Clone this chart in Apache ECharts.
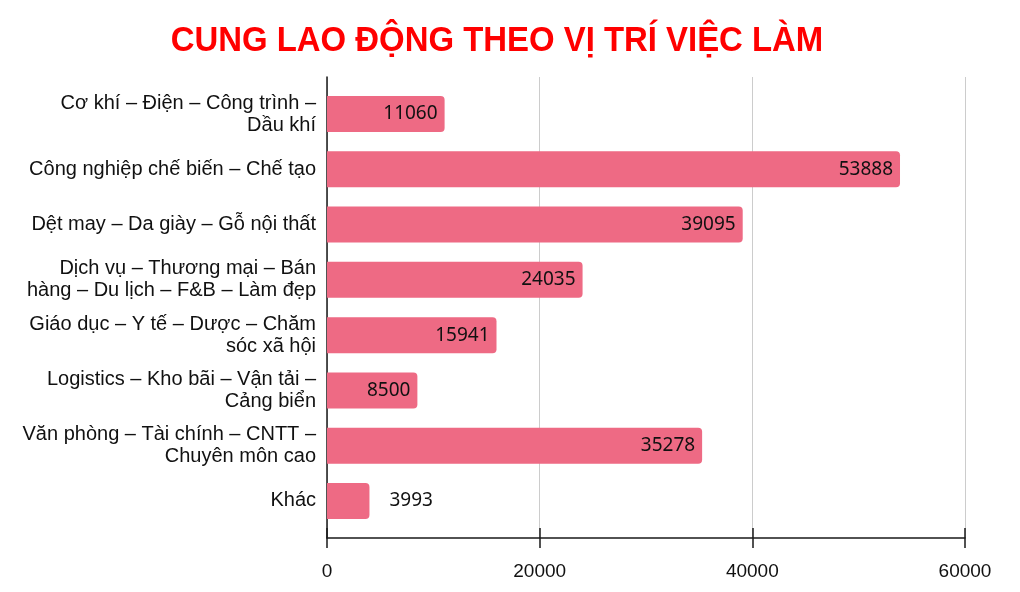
<!DOCTYPE html>
<html>
<head>
<meta charset="utf-8">
<script src="https://cdn.jsdelivr.net/npm/echarts@6/dist/echarts.min.js"></script>
<style>
html,body{margin:0;padding:0;background:#fff;}
#chart{width:1020px;height:592px;}
</style>
</head>
<body>
<div id="chart"></div>
<script>
const titleText = 'CUNG LAO ĐỘNG THEO VỊ TRÍ VIỆC LÀM';
const categories = [
  'Cơ khí – Điện – Công trình –\nDầu khí',
  'Công nghiệp chế biến – Chế tạo',
  'Dệt may – Da giày – Gỗ nội thất',
  'Dịch vụ – Thương mại – Bán\nhàng – Du lịch – F&B – Làm đẹp',
  'Giáo dục – Y tế – Dược – Chăm\nsóc xã hội',
  'Logistics – Kho bãi – Vận tải –\nCảng biển',
  'Văn phòng – Tài chính – CNTT –\nChuyên môn cao',
  'Khác'
];
const values = [11060, 53888, 39095, 24035, 15941, 8500, 35278, 3993];
const xMin = 0, xMax = 60000, xInterval = 20000;

const barColor = '#EE6A84';
const chart = echarts.init(document.getElementById('chart'));

const seriesData = values.map(function (v) {
  if (v < 6000) {
    return { value: v, label: { position: 'right', distance: 20 } };
  }
  return v;
});

chart.setOption({
  backgroundColor: '#ffffff',
  animation: false,
  graphic: [{
    type: 'text',
    x: 497,
    y: 24,
    scaleX: 0.94,
    style: {
      text: titleText,
      font: 'bold 35px "Liberation Sans"',
      fill: '#FF0000',
      textAlign: 'center',
      textVerticalAlign: 'top'
    }
  }],
  grid: [
    { left: 327, right: 55, top: 86.4, bottom: 63.4 },
    { left: 327, right: 55, top: 77, bottom: 54 }
  ],
  xAxis: [
    { gridIndex: 0, type: 'value', min: xMin, max: xMax, interval: xInterval, show: false },
    {
      gridIndex: 1, type: 'value', min: xMin, max: xMax, interval: xInterval,
      position: 'bottom',
      axisLine: { show: true, lineStyle: { color: '#1a1a1a', width: 1.5 } },
      axisTick: { show: true, length: 10, lineStyle: { color: '#1a1a1a', width: 1.5 } },
      splitLine: { show: true, lineStyle: { color: '#cccccc', width: 1 } },
      axisLabel: {
        margin: 24, fontFamily: 'Liberation Sans', fontSize: 19, color: '#111',
        formatter: function (v) { return String(v); }
      }
    },
    {
      gridIndex: 1, type: 'value', min: xMin, max: xMax, interval: xInterval,
      position: 'bottom',
      axisLine: { show: false },
      axisTick: { show: true, inside: true, length: 10, lineStyle: { color: '#1a1a1a', width: 1.5 } },
      splitLine: { show: false },
      axisLabel: { show: false }
    }
  ],
  yAxis: [
    {
      gridIndex: 0, type: 'category', data: categories, inverse: true,
      axisLine: { show: false },
      axisTick: { show: false },
      splitLine: { show: false },
      axisLabel: {
        margin: 11, fontFamily: 'Liberation Sans', fontSize: 20, color: '#111',
        lineHeight: 22, align: 'right'
      }
    },
    {
      gridIndex: 1, type: 'value', min: 0, max: 1,
      axisLine: { show: true, lineStyle: { color: '#1a1a1a', width: 1.5 } },
      axisTick: { show: false },
      axisLabel: { show: false },
      splitLine: { show: false }
    }
  ],
  series: [{
    type: 'bar',
    xAxisIndex: 0,
    yAxisIndex: 0,
    data: seriesData,
    barWidth: 36,
    itemStyle: { color: barColor, borderRadius: [0, 4, 4, 0] },
    label: {
      show: true,
      position: 'insideRight',
      distance: 7,
      fontFamily: 'Noto Sans',
      fontSize: 19,
      color: '#111',
      formatter: function (p) { return String(p.value); }
    }
  }]
});
</script>
</body>
</html>
